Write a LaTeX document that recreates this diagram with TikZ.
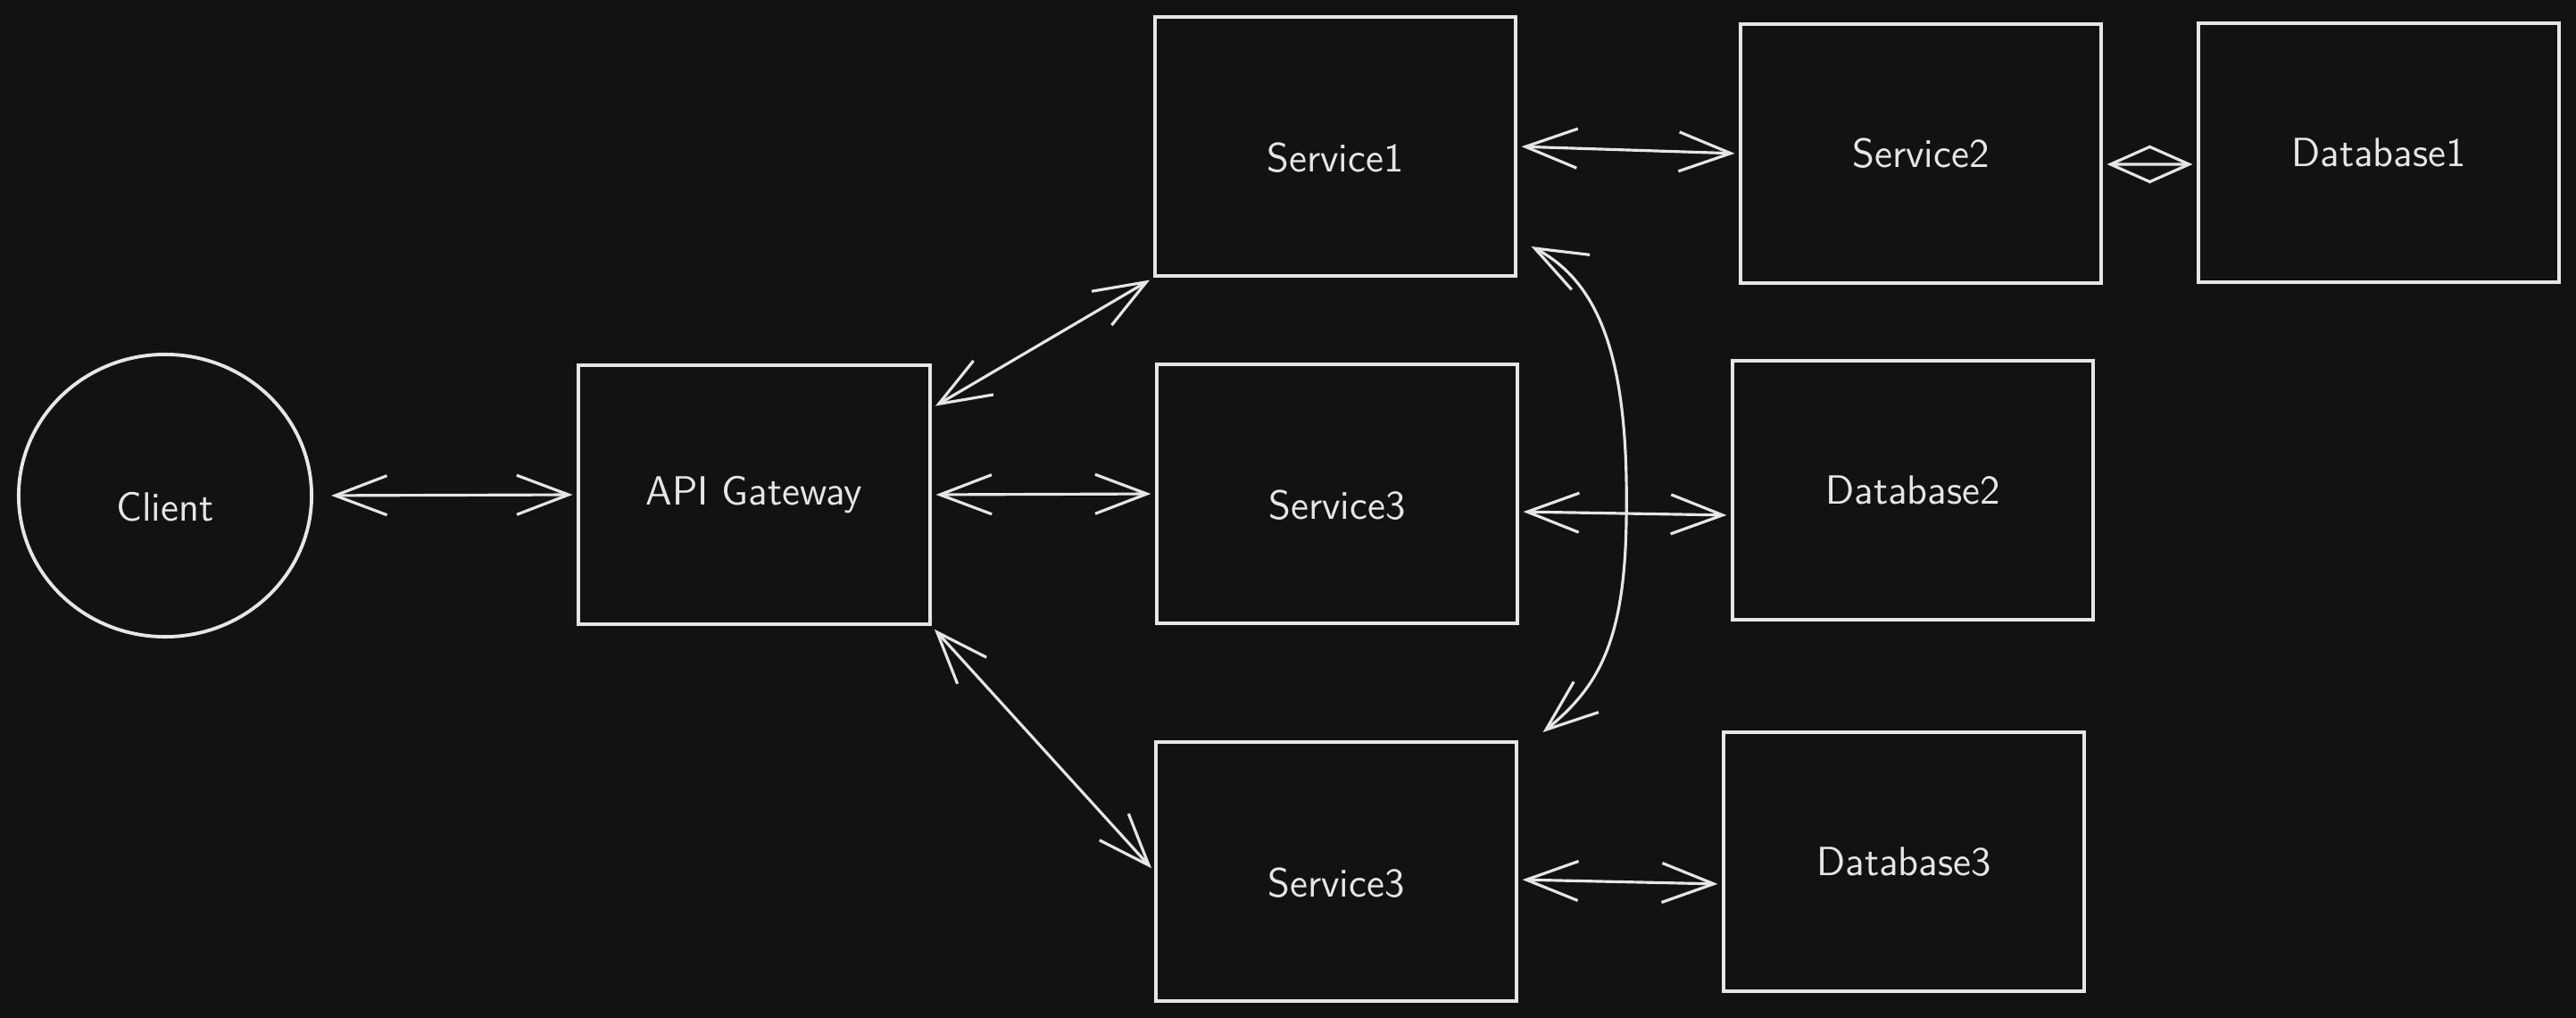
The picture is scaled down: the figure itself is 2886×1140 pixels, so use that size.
\documentclass[tikz,border=0pt]{standalone}
\usetikzlibrary{arrows.meta,shapes.geometric}
\definecolor{bg}{HTML}{121212}
\definecolor{ink}{HTML}{E6E6E6}
\tikzset{
box/.style={draw=ink,line width=1.1pt,minimum width=4.03cm,minimum height=2.9cm,text=ink,font=\sffamily\fontsize{13}{15}\selectfont},
low/.style={text height=0.57cm,text depth=0pt},
link/.style={draw=ink,line width=0.9pt,<->,shorten <=0.05cm,shorten >=0.05cm}}
\begin{document}
\begin{tikzpicture}[x=0.01cm,y=-0.01cm,>={Straight Barb[length=5.8mm,width=4.4mm]}]
\fill[bg](0,0)rectangle(2886,1140);
\useasboundingbox(0,0)rectangle(2886,1140);
% left side
\node[box,low,ellipse,inner sep=0pt,minimum width=3.28cm,minimum height=3.16cm](client)at(185,555){Client};
\node[box,minimum width=3.93cm](api)at(845,554){API Gateway};
% services
\node[box,low](s1)at(1496,164){Service1};
\node[box,low](s3)at(1498,553){Service3};
\node[box,low](s3b)at(1497,976){Service3};
\node[box](s2)at(2152,172){Service2};
% databases
\node[box](db1)at(2665,171){Database1};
\node[box](db2)at(2143,549){Database2};
\node[box](db3)at(2133,965){Database3};
% links
\draw[link,shorten <=0.2cm](client.east)--(api.west);
\draw[link](api.26)--(s1.south west);
\draw[link](api.east)--(s3.west);
\draw[link](api.south east)--(s3b.west);
\draw[link](s1.east)--(s2.west);
\draw[link,>={Straight Barb[length=4.5mm,width=4mm]}]([yshift=-0.12cm]s2.east)--([yshift=-0.13cm]db1.west);
\draw[link]([yshift=-0.2cm]s3.east)--([yshift=-0.28cm]db2.west);
\draw[link]([yshift=-0.09cm]s3b.east)--([yshift=-0.25cm]db3.west);
\draw[link,shorten <=0pt,shorten >=0pt]([shift={(16,-35)}]s1.south east)..controls(1800,320)and(1825,420)..(1822,584)
  ..controls(1820,720)and(1790,770)..([shift={(28,-9)}]s3b.north east);
\end{tikzpicture}
\end{document}
